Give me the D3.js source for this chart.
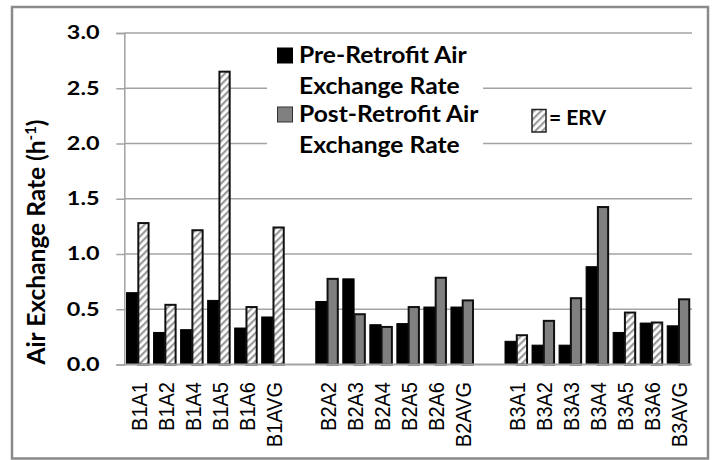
<!DOCTYPE html>
<html><head><meta charset="utf-8">
<script src="https://cdn.jsdelivr.net/npm/d3@7"></script>
<style>body{margin:0;background:#fff}svg{display:block}</style>
</head><body>
<script>
// ---- data ----
const categories = ["B1A1","B1A2","B1A4","B1A5","B1A6","B1AVG",
  "B2A2","B2A3","B2A4","B2A5","B2A6","B2AVG",
  "B3A1","B3A2","B3A3","B3A4","B3A5","B3A6","B3AVG"];
const preRetrofit  = [0.65,0.29,0.315,0.58,0.33,0.43, 0.57,0.775,0.36,0.37,0.52,0.52, 0.21,0.175,0.175,0.885,0.29,0.375,0.35];
const postRetrofit = [1.28,0.54,1.215,2.65,0.52,1.24, 0.775,0.455,0.34,0.52,0.785,0.58, 0.265,0.395,0.60,1.425,0.47,0.38,0.59];
const ervCategories = ["B1A1","B1A2","B1A4","B1A5","B1A6","B1AVG","B3A1","B3A5","B3A6"];
const yTicks = [0,0.5,1.0,1.5,2.0,2.5,3.0];
const seriesNames = ["Pre-Retrofit Air Exchange Rate","Post-Retrofit Air Exchange Rate"];

const W = 712, H = 460;
const svg = d3.select("body").append("svg").attr("width", W).attr("height", H);
const defs = svg.append("defs");
const pat = defs.append("pattern").attr("id","hatch").attr("patternUnits","userSpaceOnUse")
  .attr("width",5).attr("height",5).attr("patternTransform","rotate(45)");
pat.append("rect").attr("width",5).attr("height",5).attr("fill","#fff");
pat.append("rect").attr("width",2.2).attr("height",5).attr("fill","#9a9a9a");

svg.append("rect").attr("x",0).attr("y",0).attr("width",W).attr("height",H).attr("fill","#fff");
svg.append("rect").attr("x",12).attr("y",7).attr("width",696).attr("height",451.5)
  .attr("fill","none").attr("stroke","#8a8a8a").attr("stroke-width",2.5);

// slots with gaps between building groups
const slots = [];
categories.forEach((c,i)=>{
  if (i>0 && c.slice(0,2)!==categories[i-1].slice(0,2)) slots.push("gap"+i);
  slots.push(c);
});
const pLeft = 124.3, pRight = 692, pTop = 33, pBottom = 364.5;
const x = d3.scaleBand().domain(slots).range([pLeft,pRight]).paddingInner(0).paddingOuter(0);
const x1 = d3.scaleBand().domain(["pre","post"]).range([0,x.bandwidth()]).paddingInner(0).paddingOuter(0.2);
const y = d3.scaleLinear().domain([0,3]).range([pBottom,pTop]);

// gridlines
svg.append("g").selectAll("line").data(yTicks.filter(t=>t>0)).join("line")
  .attr("x1",pLeft).attr("x2",pRight).attr("y1",d=>y(d)).attr("y2",d=>y(d))
  .attr("stroke","#a3a3a3").attr("stroke-width",1.5);

// legend box (white background interrupting gridlines)
svg.append("rect").attr("x",267).attr("y",42).attr("width",216).attr("height",118).attr("fill","#fff");

// y axis (line + ticks from d3 axis, labels widened like the reference)
const yAxis = svg.append("g").attr("transform",`translate(${pLeft},0)`)
  .call(d3.axisLeft(y).tickValues(yTicks).tickFormat("").tickSize(8));
yAxis.select(".domain").attr("stroke","#a3a3a3").attr("stroke-width",1.5);
yAxis.selectAll(".tick line").attr("stroke","#a3a3a3").attr("stroke-width",1.5);
svg.append("g").selectAll("text").data(yTicks).join("text")
  .attr("transform",d=>`translate(99.5,${y(d)}) scale(1.3,1)`)
  .attr("text-anchor","end").attr("dy","0.36em")
  .attr("font-family","Lato").attr("font-weight","bold").attr("font-size",18)
  .text(d3.format(".1f"));

// bars
const rows = categories.map((c,i)=>({cat:c, pre:preRetrofit[i], post:postRetrofit[i], erv:ervCategories.includes(c)}));
const bars = svg.append("g");
bars.selectAll("rect.pre").data(rows).join("rect").attr("class","pre")
  .attr("x",d=>x(d.cat)+x1("pre")).attr("width",x1.bandwidth())
  .attr("y",d=>y(d.pre)).attr("height",d=>pBottom-y(d.pre))
  .attr("fill","#000").attr("stroke","#000").attr("stroke-width",1);
bars.selectAll("rect.post").data(rows).join("rect").attr("class","post")
  .attr("x",d=>x(d.cat)+x1("post")+0.5).attr("width",x1.bandwidth()-1)
  .attr("y",d=>y(d.post)).attr("height",d=>pBottom-y(d.post))
  .attr("fill",d=>d.erv?"url(#hatch)":"#808080").attr("stroke","#111").attr("stroke-width",2);

// baseline
svg.append("line").attr("x1",pLeft).attr("x2",pRight).attr("y1",pBottom).attr("y2",pBottom)
  .attr("stroke","#a3a3a3").attr("stroke-width",2);

// x labels
svg.append("g").selectAll("text").data(categories).join("text")
  .attr("transform",d=>`translate(${x(d)+x.bandwidth()/2+9},382) scale(1.1,1) rotate(-90)`)
  .attr("text-anchor","end").attr("font-family","Liberation Sans, Arial").attr("font-size",20)
  .text(d=>d);

// y title
const yt = svg.append("text").attr("transform","translate(45,242) rotate(-90)")
  .attr("text-anchor","middle").attr("font-family","Lato").attr("font-weight","bold").attr("font-size",24.5);
yt.append("tspan").text("Air Exchange Rate (h");
yt.append("tspan").attr("font-size",15).attr("baseline-shift","super").text("-1");
yt.append("tspan").text(")");

// legend
const leg = svg.append("g").attr("font-family","Lato").attr("font-weight","bold").attr("font-size",22);
const legFills = ["#000","#808080"];
const legY = [48,107];
seriesNames.forEach((s,i)=>{
  leg.append("rect").attr("x",277.5).attr("y",legY[i]).attr("width",15).attr("height",15)
    .attr("fill",legFills[i]).attr("stroke",i?"#333":"#000").attr("stroke-width",1);
  const words = s.split(" ");
  leg.append("text").attr("transform",`translate(299,${legY[i]+14.5}) scale(1.12,1)`).text(words.slice(0,2).join(" "));
  leg.append("text").attr("transform",`translate(299,${legY[i]+45.5}) scale(1.12,1)`).text(words.slice(2).join(" "));
});
leg.append("rect").attr("x",532).attr("y",109.5).attr("width",14).attr("height",22.5)
  .attr("fill","url(#hatch)").attr("stroke","#222").attr("stroke-width",1.5);
leg.append("text").attr("x",549).attr("y",125).attr("font-size",21).text("= ERV");
</script>
</body></html>
